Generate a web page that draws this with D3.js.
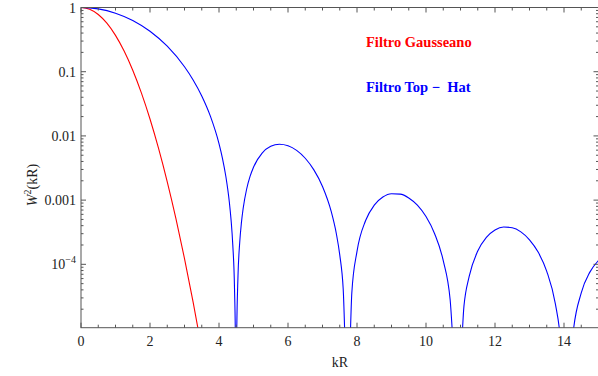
<!DOCTYPE html>
<html>
<head>
<meta charset="utf-8">
<script src="https://cdn.jsdelivr.net/npm/d3@7"></script>
<style>
  body { margin: 0; background: #fff; }
  svg text { font-family: "Liberation Serif", "Times New Roman", "DejaVu Serif", serif; }
</style>
</head>
<body>
<div id="chart"></div>
<script>
var width = 598,
    height = 376;

// values (W^2 against kR)
var gaussK = [0, 0.25, 0.5, 0.75, 1, 1.25, 1.5, 1.75, 2, 2.25, 2.5, 2.75, 3, 3.25, 3.5];
var gaussW2 = [1, 0.9394, 0.7788, 0.5698, 0.3679, 0.2096, 0.1054, 0.04677, 0.01832, 0.00633, 0.00193, 5.20e-4, 1.23e-4, 2.58e-5, 4.79e-6];

var hatK = [0, 0.25, 0.5, 1, 1.5, 2, 2.5, 3, 3.25, 3.5, 3.75, 4, 4.1, 4.2, 4.3, 4.35, 4.4, 4.45, 4.48, 4.49,
            4.51, 4.55, 4.6, 4.65, 4.7, 4.8, 4.9, 5, 5.25, 5.5, 5.75, 6, 6.25, 6.5, 6.75, 7, 7.25, 7.4, 7.5, 7.6, 7.7,
            7.75, 7.85, 8, 8.25, 8.5, 8.75, 9, 9.25, 9.5, 9.75, 10, 10.25, 10.5, 10.7, 10.85,
            10.95, 11.1, 11.25, 11.5, 11.75, 12, 12.25, 12.5, 12.75, 13, 13.25, 13.5, 13.75, 13.9, 14,
            14.1, 14.25, 14.5, 14.75, 15];
var hatW2 = [1, 0.9876, 0.9511, 0.8163, 0.6278, 0.4265, 0.2495, 0.1195, 0.07448, 0.04194, 0.02032, 0.007583, 0.004485, 0.002312, 9.28e-4, 4.90e-4, 1.99e-4, 4.12e-5, 3.9e-6, 2.5e-7,
             5.8e-6, 6.45e-5, 2.17e-4, 4.46e-4, 7.40e-4, 0.001476, 0.002338, 0.003255, 0.005409, 0.006890, 0.007424, 0.007038, 0.005954, 0.004488, 0.002960, 0.001633, 6.73e-4, 3.02e-4, 1.40e-4, 4.14e-5, 1.7e-6,
             1.5e-6, 3.61e-5, 1.59e-4, 4.81e-4, 8.35e-4, 0.001115, 0.001256, 0.001238, 0.001081, 8.34e-4, 5.54e-4, 3.00e-4, 1.14e-4, 2.80e-5, 1.96e-6,
             1.26e-6, 2.23e-5, 6.41e-5, 1.61e-4, 2.63e-4, 3.43e-4, 3.81e-4, 3.71e-4, 3.20e-4, 2.41e-4, 1.55e-4, 7.77e-5, 2.42e-5, 6.57e-6, 1.02e-6,
             1.5e-7, 7.26e-6, 3.58e-5, 7.56e-5, 1.147e-4];

var xMajor = [0, 2, 4, 6, 8, 10, 12, 14];
var yMajor = [1, 0.1, 0.01, 0.001, 1e-4];
var yLabels = ["1", "0.1", "0.01", "0.001", "10^-4"];

var gauss = gaussK.map(function(k, i) { return {k: k, w: gaussW2[i]}; });
var hat = hatK.map(function(k, i) { return {k: k, w: hatW2[i]}; });

var pLeft = 81, pRight = 598.5, pTop = 7.5, pBottom = 327.7;
var serif = "'Liberation Serif', 'Times New Roman', 'DejaVu Serif', serif";

var x = d3.scaleLinear().domain([0, 15]).range([pLeft, pRight]);
var y = d3.scaleLog().domain([1.03e-5, 1]).range([pBottom, pTop]);

var svg = d3.select("#chart").append("svg")
  .attr("width", width)
  .attr("height", height)
  .attr("font-family", serif);

svg.append("clipPath").attr("id", "plotClip")
  .append("rect")
  .attr("x", pLeft).attr("y", pTop)
  .attr("width", pRight - pLeft).attr("height", pBottom - pTop);

var line = d3.line()
  .x(function(d) { return x(d.k); })
  .y(function(d) { return y(Math.max(d.w, 1e-9)); })
  .curve(d3.curveMonotoneX);

var curves = svg.append("g").attr("clip-path", "url(#plotClip)");
curves.append("path").datum(gauss)
  .attr("d", line).attr("fill", "none").attr("stroke", "#ff0000").attr("stroke-width", 1.1);
curves.append("path").datum(hat)
  .attr("d", line).attr("fill", "none").attr("stroke", "#0000ff").attr("stroke-width", 1.1);

// frame
var frameColor = "#555";
svg.append("rect")
  .attr("x", pLeft).attr("y", pTop)
  .attr("width", pRight - pLeft).attr("height", pBottom - pTop)
  .attr("fill", "none").attr("stroke", frameColor).attr("stroke-width", 1);

// x ticks (bottom and top, inward)
var xMinor = d3.range(0, 15.01, 0.5).filter(function(v) { return xMajor.indexOf(v) < 0; });
var ticks = svg.append("g").attr("stroke", frameColor).attr("stroke-width", 1);
xMajor.concat(xMinor).forEach(function(v) {
  var len = xMajor.indexOf(v) >= 0 ? 5 : 3;
  ticks.append("line").attr("x1", x(v)).attr("x2", x(v)).attr("y1", pBottom).attr("y2", pBottom - len);
  ticks.append("line").attr("x1", x(v)).attr("x2", x(v)).attr("y1", pTop).attr("y2", pTop + len);
});

// y ticks (log, left and right, inward)
var yMinor = [];
[1e-5, 1e-4, 1e-3, 1e-2, 1e-1].forEach(function(d) {
  for (var m = 2; m <= 9; m++) yMinor.push(d * m);
});
yMajor.forEach(function(v) {
  ticks.append("line").attr("x1", pLeft).attr("x2", pLeft + 5).attr("y1", y(v)).attr("y2", y(v));
  ticks.append("line").attr("x1", pRight).attr("x2", pRight - 5).attr("y1", y(v)).attr("y2", y(v));
});
yMinor.filter(function(v) { return v > 1.03e-5 && v < 1; }).forEach(function(v) {
  ticks.append("line").attr("x1", pLeft).attr("x2", pLeft + 2.5).attr("y1", y(v)).attr("y2", y(v));
  ticks.append("line").attr("x1", pRight).attr("x2", pRight - 2.5).attr("y1", y(v)).attr("y2", y(v));
});

// tick labels
svg.append("g").selectAll("text")
  .data(xMajor).enter().append("text")
  .attr("x", function(d) { return x(d); })
  .attr("y", pBottom + 18)
  .attr("text-anchor", "middle")
  .attr("font-size", 14)
  .attr("fill", "#222")
  .text(function(d) { return d; });

var yl = svg.append("g").selectAll("text")
  .data(yMajor).enter().append("text")
  .attr("x", pLeft - 5)
  .attr("y", function(d) { return y(d) + 5; })
  .attr("text-anchor", "end")
  .attr("font-size", 14)
  .attr("fill", "#222");
yl.each(function(d, i) {
  var t = d3.select(this), lab = yLabels[i];
  if (lab.indexOf("^") > 0) {
    var parts = lab.split("^");
    t.append("tspan").text(parts[0]);
    t.append("tspan").attr("dy", -6).attr("font-size", 10).text(parts[1].replace("-", "\u2212"));
  } else {
    t.text(lab);
  }
});

// axis titles
svg.append("text")
  .attr("x", 340).attr("y", 367)
  .attr("text-anchor", "middle")
  .attr("font-size", 14)
  .attr("fill", "#222")
  .text("kR");

var yt = svg.append("text")
  .attr("transform", "translate(37,185) rotate(-90)")
  .attr("text-anchor", "middle")
  .attr("font-size", 14)
  .attr("fill", "#222");
yt.append("tspan").attr("font-style", "italic").text("W");
yt.append("tspan").attr("dy", -6).attr("font-size", 10).text("2");
yt.append("tspan").attr("dy", 6).text("(kR)");

// legend labels
svg.append("text")
  .attr("x", 366).attr("y", 47)
  .attr("font-size", 14.5).attr("font-weight", "bold")
  .attr("fill", "#ff0000")
  .text("Filtro Gausseano");
svg.append("text")
  .attr("x", 366).attr("y", 92)
  .attr("font-size", 14.5).attr("font-weight", "bold")
  .attr("fill", "#0000ff")
  .attr("xml:space", "preserve")
  .text("Filtro Top \u2212  Hat");
</script>
</body>
</html>
